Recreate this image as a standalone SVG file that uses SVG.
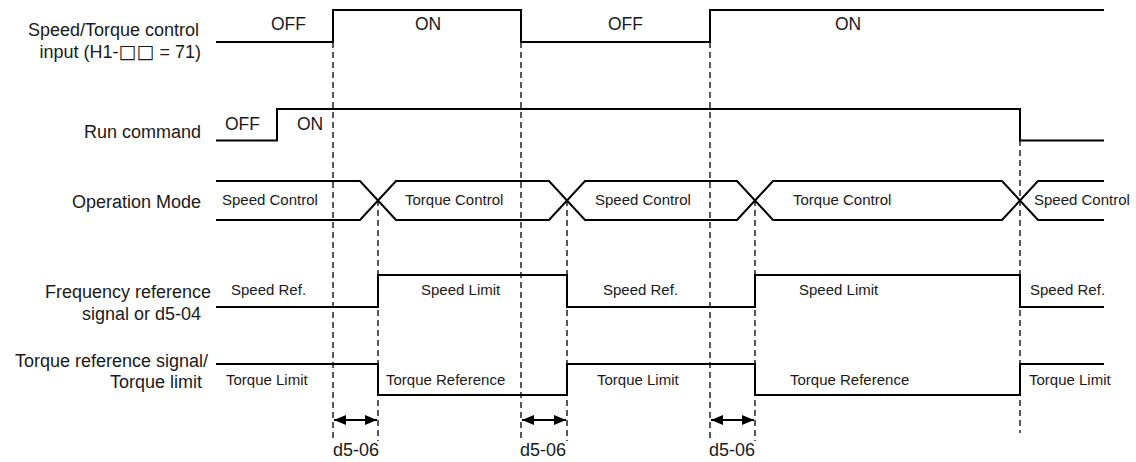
<svg xmlns="http://www.w3.org/2000/svg" width="1136" height="462" viewBox="0 0 1136 462">
<style>
text{font-family:"Liberation Sans",Arial,sans-serif;fill:#1a1a1a}
.lbl{font-size:18px;text-anchor:end}
.sq{font-family:"DejaVu Sans",sans-serif;font-size:19px}
.st{font-size:17.5px}
.wl{font-size:15px}
.dl{font-size:18px}
.sig{fill:none;stroke:#000;stroke-width:2}
.dash{stroke:#000;stroke-width:1.3;stroke-dasharray:6,4;fill:none}
.arr{stroke:#000;stroke-width:2;fill:none;marker-start:url(#ah);marker-end:url(#ah)}
</style>
<defs>
<marker id="ah" viewBox="0 0 12 10" refX="12" refY="5" markerWidth="12" markerHeight="10" markerUnits="userSpaceOnUse" orient="auto-start-reverse">
<path d="M0,0 L12,5 L0,10 Z" fill="#000"/>
</marker>
</defs>
<rect width="1136" height="462" fill="#fff"/>

<g id="sig-speed-torque-input">
<text class="lbl" x="199" y="36">Speed/Torque control</text>
<text class="lbl" x="201" y="58">input (H1-<tspan class="sq">□□</tspan> = 71)</text>
<path class="sig" d="M216,42 H333 V10 H521 V42 H710 V10 H1104"/>
<text class="st" x="271" y="30">OFF</text>
<text class="st" x="415" y="30">ON</text>
<text class="st" x="608" y="30">OFF</text>
<text class="st" x="835" y="30">ON</text>
</g>

<g id="sig-run-command">
<text class="lbl" x="201" y="138">Run command</text>
<path class="sig" d="M216,140.5 H277 V109 H1020 V140.5 H1104"/>
<text class="st" x="225" y="130">OFF</text>
<text class="st" x="297" y="130">ON</text>
</g>

<g id="sig-operation-mode">
<text class="lbl" x="201" y="208">Operation Mode</text>
<path class="sig" d="M216,181 H360 L396,220 H549 L585,181 H737 L773,220 H1002 L1038,181 H1104"/>
<path class="sig" d="M216,220 H360 L396,181 H549 L585,220 H737 L773,181 H1002 L1038,220 H1104"/>
<text class="wl" x="222" y="205">Speed Control</text>
<text class="wl" x="405" y="205">Torque Control</text>
<text class="wl" x="595" y="205">Speed Control</text>
<text class="wl" x="793" y="205">Torque Control</text>
<text class="wl" x="1034" y="205">Speed Control</text>
</g>

<g id="sig-frequency-reference">
<text class="lbl" x="211" y="298">Frequency reference</text>
<text class="lbl" x="201" y="320">signal or d5-04</text>
<path class="sig" d="M216,307 H378 V275 H567 V307 H755 V275 H1020 V307 H1104"/>
<text class="wl" x="231" y="295">Speed Ref.</text>
<text class="wl" x="421" y="295">Speed Limit</text>
<text class="wl" x="603" y="295">Speed Ref.</text>
<text class="wl" x="799" y="295">Speed Limit</text>
<text class="wl" x="1030" y="295">Speed Ref.</text>
</g>

<g id="sig-torque-reference">
<text class="lbl" x="208" y="367">Torque reference signal/</text>
<text class="lbl" x="202" y="388">Torque limit</text>
<path class="sig" d="M216,364 H378 V395 H567 V364 H755 V395 H1020 V364 H1104"/>
<text class="wl" x="226" y="385">Torque Limit</text>
<text class="wl" x="386" y="385">Torque Reference</text>
<text class="wl" x="597" y="385">Torque Limit</text>
<text class="wl" x="790" y="385">Torque Reference</text>
<text class="wl" x="1029" y="385">Torque Limit</text>
</g>

<g id="connectors">
<line class="dash" x1="333" y1="42" x2="333" y2="441"/>
<line class="dash" x1="378" y1="200" x2="378" y2="441"/>
<line class="dash" x1="521" y1="42" x2="521" y2="441"/>
<line class="dash" x1="567" y1="200" x2="567" y2="441"/>
<line class="dash" x1="710" y1="42" x2="710" y2="441"/>
<line class="dash" x1="755" y1="200" x2="755" y2="441"/>
<line class="dash" x1="1020" y1="140" x2="1020" y2="433"/>
<line class="arr" x1="334" y1="420" x2="377" y2="420"/>
<line class="arr" x1="522" y1="420" x2="566" y2="420"/>
<line class="arr" x1="711" y1="420" x2="754" y2="420"/>
</g>

<g id="delay-labels">
<text class="dl" x="333" y="456">d5-06</text>
<text class="dl" x="520" y="456">d5-06</text>
<text class="dl" x="709" y="456">d5-06</text>
</g>
</svg>
